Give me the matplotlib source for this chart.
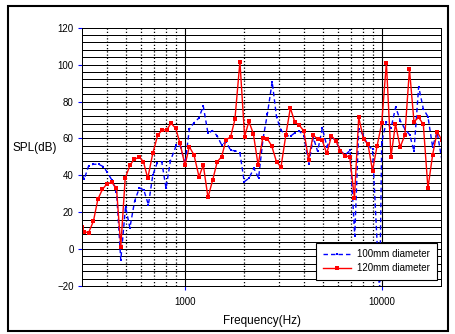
import numpy as np
import matplotlib
matplotlib.use("Agg")
import matplotlib.pyplot as plt
from matplotlib.patches import Rectangle
from matplotlib.ticker import FixedLocator, FixedFormatter, NullFormatter

plt.rcParams['font.family'] = ['Liberation Sans', 'DejaVu Sans']

# ---- data (Hz, dB) ----
blue_freq = [300, 308, 324, 343, 364, 385, 401, 425, 449, 472,
             499, 525, 555, 587, 618, 652, 686, 721, 762, 801,
             844, 904, 949, 1000, 1052, 1111, 1175, 1238, 1308, 1379,
             1458, 1535, 1619, 1705, 1798, 1900, 1998, 2110, 2237, 2363,
             2491, 2619, 2770, 2916, 3073, 3250, 3433, 3618, 3804, 4020,
             4241, 4480, 4711, 4977, 5257, 5546, 5845, 6175, 6494, 6884,
             7271, 7618, 8030, 8482, 8950, 9734, 9966, 10527, 11108, 11731,
             12395, 13081, 13815, 14533, 15350, 16211, 17105, 18064, 19043, 20140]
blue_db = [40.5, 38, 45, 46, 46, 44.7, 42, 37.5, 31.1, -6,
           23, 11.5, 26, 33.2, 32, 24, 40, 46.5, 47.4, 33,
           48, 56.4, 55.5, 46, 65, 68.5, 71, 77.5, 62.8, 64.2,
           61.3, 56.4, 58.2, 53.5, 53.3, 52.2, 36.5, 38.4, 43.8, 38.5,
           60, 73.2, 90.7, 71.4, 64.4, 61.6, 61.2, 63.1, 64, 61.3,
           46, 60.5, 53, 65.5, 55.5, 61.3, 58.2, 53.2, 51, 53.5,
           7, 65, 61.8, 56.3, 54, -25, 58.2, 69, 65.5, 77,
           69.5, 65, 62, 53.2, 88, 76, 71.8, 55.5, 63.5, 48.3]

red_freq = [300, 308, 324, 343, 361, 381, 401, 425, 449, 472,
            497, 526, 553, 587, 615, 647, 686, 727, 767, 808,
            849, 897, 943, 1000, 1052, 1111, 1178, 1238, 1308, 1382,
            1458, 1535, 1614, 1705, 1792, 1900, 2007, 2110, 2224, 2350,
            2480, 2613, 2754, 2916, 3073, 3250, 3425, 3610, 3796, 4010,
            4241, 4470, 4706, 4965, 5245, 5540, 5825, 6153, 6494, 6860,
            7245, 7618, 8057, 8482, 8950, 9433, 9966, 10527, 11108, 11705,
            12366, 13066, 13785, 14533, 15350, 16211, 17105, 18064, 19043, 20140]
red_db = [12, 9.4, 8.9, 15.2, 27, 32.4, 35.3, 36.2, 33, 1.3,
          38.4, 45.6, 48.7, 49.8, 47.4, 38.4, 51.9, 61.8, 64.6, 64.6,
          68.2, 65.5, 57.3, 45.6, 55.5, 51, 39.2, 45.6, 28, 37.5,
          47.4, 50.1, 59.1, 60.9, 70.3, 101.6, 61, 69.2, 62.5, 45.5,
          60.2, 59.9, 56, 47.2, 44.7, 61.8, 76.5, 68.8, 67.3, 64,
          48.5, 61.8, 59.7, 59.1, 51.9, 61.3, 58.8, 53.3, 50.4, 50.1,
          27.5, 71.5, 59.5, 57, 42.5, 55.7, 68.2, 101, 50, 67.8,
          55.3, 61.8, 97.5, 69, 71.4, 67.6, 33, 51, 63.6, 59.1]

series_labels = ['100mm diameter', '120mm diameter']
x_major = [1000, 10000]
x_major_labels = ['1000', '10000']
x_minor = [400, 500, 600, 700, 800, 900, 2000, 3000, 4000, 5000, 6000, 7000, 8000, 9000]
y_major = [-20, 0, 20, 40, 60, 80, 100, 120]

W, H = 456, 334
fig = plt.figure(figsize=(W / 100, H / 100), dpi=100)
fig.patch.set_facecolor('white')
ax = fig.add_axes([82 / W, 1 - 286 / H, (441.3 - 82) / W, (286 - 27.7) / H])

ax.set_xscale('log')
ax.set_xlim(300, 20000)
ax.set_ylim(-20, 120)

# grid
ax.xaxis.set_major_locator(FixedLocator(x_major))
ax.xaxis.set_major_formatter(FixedFormatter(x_major_labels))
ax.xaxis.set_minor_locator(FixedLocator(x_minor))
ax.xaxis.set_minor_formatter(NullFormatter())
ax.yaxis.set_major_locator(FixedLocator(y_major))
ax.yaxis.set_minor_locator(FixedLocator(list(np.arange(-20, 121, 4))))

ax.grid(True, which='both', axis='y', color='black', lw=0.72)
ax.grid(True, which='major', axis='x', color='black', lw=0.8)
ax.grid(True, which='minor', axis='x', color='black', lw=0.9, linestyle=(0, (1, 1.6)))
ax.set_axisbelow(True)

for s in ax.spines.values():
    s.set_color('black')
    s.set_linewidth(0.72)

ax.tick_params(which='major', direction='out', color='#0000FF', length=3, width=0.8,
               labelsize=7, pad=3)
ax.tick_params(which='minor', length=0)
ax.tick_params(axis='x', which='major', pad=5)

l1, = ax.plot(blue_freq, blue_db, color='#0000FF', lw=1.0, dashes=(3.2, 2.2),
              marker='s', markersize=2.0, markeredgewidth=0, label=series_labels[0],
              solid_joinstyle='miter', dash_joinstyle='miter')
l2, = ax.plot(red_freq, red_db, color='#FF0000', lw=1.0,
              marker='s', markersize=2.6, markeredgewidth=0, label=series_labels[1],
              solid_joinstyle='miter')

leg = ax.legend(handles=[l1, l2], loc='lower right', bbox_to_anchor=(0.988, 0.023),
                borderaxespad=0, fontsize=7, frameon=True, fancybox=False,
                edgecolor='black', framealpha=1, handlelength=2.9,
                labelspacing=0.4, borderpad=0.7, handletextpad=0.6)
leg.get_frame().set_linewidth(0.8)

fig.text(12.7 / W, 1 - 148 / H, 'SPL(dB)', fontsize=8.5, ha='left', va='center')
fig.text(262 / W, 1 - 321 / H, 'Frequency(Hz)', fontsize=8.5, ha='center', va='center')

fig.patches.append(Rectangle((7.7 / W, 1 - 331 / H), (448.5 - 7.7) / W, (331 - 5.7) / H,
                             transform=fig.transFigure, fill=False,
                             edgecolor='black', linewidth=1.5))

fig.savefig('out.png', dpi=100)
